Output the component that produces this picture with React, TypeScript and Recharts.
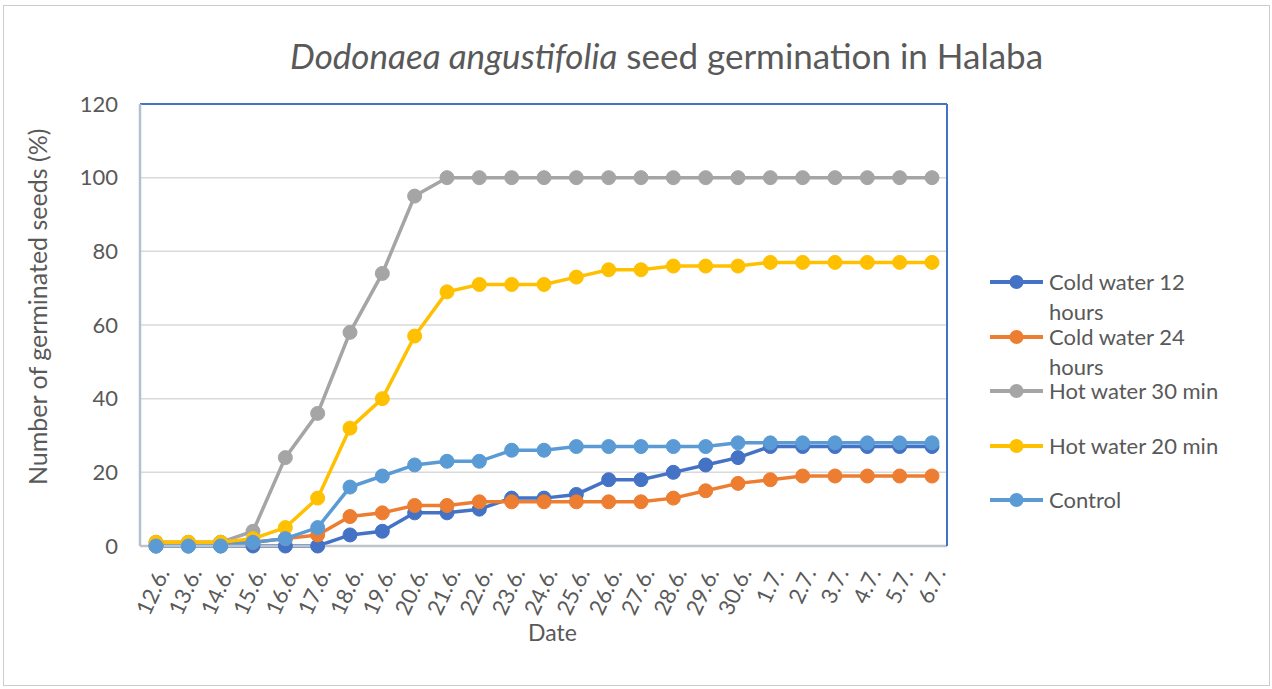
import { LineChart, Line, XAxis, YAxis, CartesianGrid, Legend, ReferenceLine } from "recharts";

const dates = [
    "12.6.", "13.6.", "14.6.", "15.6.", "16.6.", "17.6.", "18.6.", "19.6.", "20.6.", "21.6.",
    "22.6.", "23.6.", "24.6.", "25.6.", "26.6.", "27.6.", "28.6.", "29.6.", "30.6.",
    "1.7.", "2.7.", "3.7.", "4.7.", "5.7.", "6.7.",
];
const cold12 = [0, 0, 0, 0, 0, 0, 3, 4, 9, 9, 10, 13, 13, 14, 18, 18, 20, 22, 24, 27, 27, 27, 27, 27, 27];
const cold24 = [1, 1, 1, 1, 2, 3, 8, 9, 11, 11, 12, 12, 12, 12, 12, 12, 13, 15, 17, 18, 19, 19, 19, 19, 19];
const hot30 = [0, 0, 1, 4, 24, 36, 58, 74, 95, 100, 100, 100, 100, 100, 100, 100, 100, 100, 100, 100, 100, 100, 100, 100, 100];
const hot20 = [1, 1, 1, 2, 5, 13, 32, 40, 57, 69, 71, 71, 71, 73, 75, 75, 76, 76, 76, 77, 77, 77, 77, 77, 77];
const control = [0, 0, 0, 1, 2, 5, 16, 19, 22, 23, 23, 26, 26, 27, 27, 27, 27, 27, 28, 28, 28, 28, 28, 28, 28];
const yTicks = [0, 20, 40, 60, 80, 100, 120];

const series = [
    { key: "cold12", name: "Cold water 12 hours", color: "#4472C4", values: cold12 },
    { key: "cold24", name: "Cold water 24 hours", color: "#ED7D31", values: cold24 },
    { key: "hot30", name: "Hot water 30 min", color: "#A5A5A5", values: hot30 },
    { key: "hot20", name: "Hot water 20 min", color: "#FFC000", values: hot20 },
    { key: "control", name: "Control", color: "#5B9BD5", values: control },
];

const data = dates.map((d, i) => {
    const row: Record<string, string | number> = { date: d };
    series.forEach((s) => (row[s.key] = s.values[i]));
    return row;
});

const FONT = "Lato, 'Open Sans', sans-serif";
const TEXT = "#595959";

function LegendBox() {
    return (
        <div style={{ width: 302, boxSizing: "border-box", paddingLeft: 42, fontFamily: FONT, fontSize: 22, color: TEXT }}>
            {series.map((s) => (
                <div key={s.key} style={{ height: 54.5, display: "flex", alignItems: "flex-start" }}>
                    <svg width={53} height={30} style={{ flex: "none" }}>
                        <line x1={0} y1={15} x2={53} y2={15} stroke={s.color} strokeWidth={4} />
                        <circle cx={26.5} cy={15} r={7} fill={s.color} />
                    </svg>
                    <div style={{ marginLeft: 6, lineHeight: "30px", width: 178 }}>{s.name}</div>
                </div>
            ))}
        </div>
    );
}

export default function App() {
    return (
        <div
            style={{
                position: "absolute",
                left: 3,
                top: 5,
                width: 1267,
                height: 681,
                border: "1.5px solid #cccccc",
                boxSizing: "border-box",
                background: "#fff",
            }}
        >
            <div
                style={{
                    position: "absolute",
                    top: 28,
                    left: 0,
                    width: 1265,
                    boxSizing: "border-box",
                    paddingLeft: 60,
                    textAlign: "center",
                    fontFamily: FONT,
                    fontSize: 35,
                    lineHeight: "42px",
                    color: TEXT,
                }}
            >
                <i>Dodonaea angustifolia</i> seed germination in Halaba
            </div>
            <LineChart width={1264} height={678} data={data} margin={{ top: 98, right: 18, bottom: 58, left: 76 }}>
                <CartesianGrid vertical={false} stroke="#d9d9d9" strokeWidth={1.5} />
                <XAxis
                    dataKey="date"
                    interval={0}
                    height={80}
                    padding={{ left: 16, right: 15 }}
                    tickLine={false}
                    axisLine={{ stroke: "#bfc3c8", strokeWidth: 2.5 }}
                    angle={-65}
                    textAnchor="end"
                    tickMargin={14}
                    tick={{ fill: TEXT, fontSize: 22, fontFamily: FONT }}
                    label={{ value: "Date", position: "insideBottom", offset: -15, fill: TEXT, fontSize: 23, fontFamily: FONT, dx: 9 }}
                />
                <YAxis
                    domain={[0, 120]}
                    ticks={yTicks}
                    width={60}
                    tickLine={false}
                    tickMargin={16}
                    axisLine={{ stroke: "#b4c0d2", strokeWidth: 2.5 }}
                    tick={{ fill: TEXT, fontSize: 22, fontFamily: FONT }}
                    label={{
                        value: "Number of germinated seeds (%)",
                        angle: -90,
                        position: "insideLeft",
                        offset: -42,
                        dy: 160,
                        fill: TEXT,
                        fontSize: 25,
                        fontFamily: FONT,
                    }}
                />
                <YAxis
                    yAxisId="frame"
                    orientation="right"
                    domain={[0, 120]}
                    width={1}
                    tick={false}
                    tickLine={false}
                    axisLine={{ stroke: "#4472C4", strokeWidth: 2 }}
                />
                <ReferenceLine y={120} stroke="#4472C4" strokeWidth={2} />
                <Legend
                    layout="vertical"
                    align="right"
                    verticalAlign="top"
                    wrapperStyle={{ top: 261 }}
                    content={() => <LegendBox />}
                />
                {series.map((s) => (
                    <Line
                        key={s.key}
                        dataKey={s.key}
                        name={s.name}
                        stroke={s.color}
                        strokeWidth={3.5}
                        dot={{ r: 7, fill: s.color, stroke: s.color, strokeWidth: 1 }}
                        activeDot={false}
                        isAnimationActive={false}
                    />
                ))}
            </LineChart>
        </div>
    );
}
